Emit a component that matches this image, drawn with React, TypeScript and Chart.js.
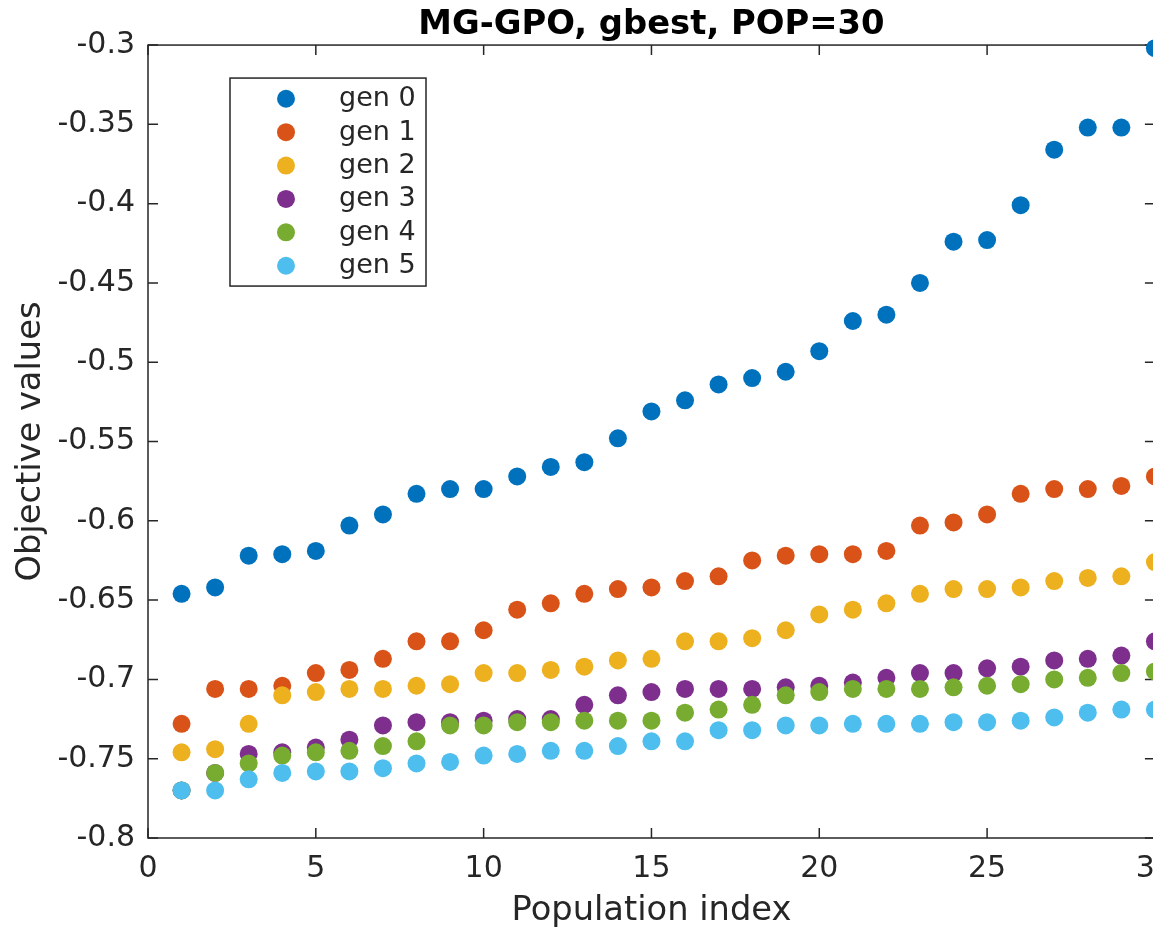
import React, { useEffect, useRef } from "react";
import { Chart, registerables } from "chart.js";

Chart.register(...registerables);

// Population index (x) shared by every generation
const populationIndex = [
  1, 2, 3, 4, 5, 6, 7, 8, 9, 10, 11, 12, 13, 14, 15,
  16, 17, 18, 19, 20, 21, 22, 23, 24, 25, 26, 27, 28, 29, 30,
];

// Objective values, sorted per generation
const gen0 = [
  -0.646, -0.642, -0.622, -0.621, -0.619, -0.603, -0.596, -0.583, -0.58, -0.58,
  -0.572, -0.566, -0.563, -0.548, -0.531, -0.524, -0.514, -0.51, -0.506, -0.493,
  -0.474, -0.47, -0.45, -0.424, -0.423, -0.401, -0.366, -0.352, -0.352, -0.302,
];
const gen1 = [
  -0.728, -0.706, -0.706, -0.704, -0.696, -0.694, -0.687, -0.676, -0.676, -0.669,
  -0.656, -0.652, -0.646, -0.643, -0.642, -0.638, -0.635, -0.625, -0.622, -0.621,
  -0.621, -0.619, -0.603, -0.601, -0.596, -0.583, -0.58, -0.58, -0.578, -0.572,
];
const gen2 = [
  -0.746, -0.744, -0.728, -0.71, -0.708, -0.706, -0.706, -0.704, -0.703, -0.696,
  -0.696, -0.694, -0.692, -0.688, -0.687, -0.676, -0.676, -0.674, -0.669, -0.659,
  -0.656, -0.652, -0.646, -0.643, -0.643, -0.642, -0.638, -0.636, -0.635, -0.626,
];
const gen3 = [
  -0.77, -0.759, -0.747, -0.746, -0.743, -0.738, -0.729, -0.727, -0.727, -0.726,
  -0.725, -0.725, -0.716, -0.71, -0.708, -0.706, -0.706, -0.706, -0.705, -0.704,
  -0.702, -0.699, -0.696, -0.696, -0.693, -0.692, -0.688, -0.687, -0.685, -0.676,
];
const gen4 = [
  -0.77, -0.759, -0.753, -0.748, -0.746, -0.745, -0.742, -0.739, -0.729, -0.729,
  -0.727, -0.727, -0.726, -0.726, -0.726, -0.721, -0.719, -0.716, -0.71, -0.708,
  -0.706, -0.706, -0.706, -0.705, -0.704, -0.703, -0.7, -0.699, -0.696, -0.695,
];
const gen5 = [
  -0.77, -0.77, -0.763, -0.759, -0.758, -0.758, -0.756, -0.753, -0.752, -0.748,
  -0.747, -0.745, -0.745, -0.742, -0.739, -0.739, -0.732, -0.732, -0.729, -0.729,
  -0.728, -0.728, -0.728, -0.727, -0.727, -0.726, -0.724, -0.721, -0.719, -0.719,
];

const seriesValues = [gen0, gen1, gen2, gen3, gen4, gen5];
const seriesNames = ["gen 0", "gen 1", "gen 2", "gen 3", "gen 4", "gen 5"];
const seriesColors = ["#0072BD", "#D95319", "#EDB120", "#7E2F8E", "#77AC30", "#4DBEEE"];

const xTicks = [0, 5, 10, 15, 20, 25, 30];
const yTicks = [-0.8, -0.75, -0.7, -0.65, -0.6, -0.55, -0.5, -0.45, -0.4, -0.35, -0.3];
const yTickLabels = ["-0.8", "-0.75", "-0.7", "-0.65", "-0.6", "-0.55", "-0.5", "-0.45", "-0.4", "-0.35", "-0.3"];

const chartTitle = "MG-GPO, gbest, POP=30";
const xTitle = "Population index";
const yTitle = "Objective values";

const FONT = "'DejaVu Sans', sans-serif";
const AXIS_COLOR = "#262626";
const MARKER_RADIUS = 9;

// Box around the axes with inward tick marks on all four sides
const axesBoxPlugin = {
  id: "axesBox",
  beforeDatasetsDraw(chart: any) {
    const { ctx, chartArea: a, scales } = chart;
    const len = 10;
    ctx.save();
    ctx.strokeStyle = AXIS_COLOR;
    ctx.lineWidth = 1.5;
    ctx.strokeRect(a.left, a.top, a.right - a.left, a.bottom - a.top);
    ctx.beginPath();
    for (const v of xTicks) {
      const px = scales.x.getPixelForValue(v);
      ctx.moveTo(px, a.bottom);
      ctx.lineTo(px, a.bottom - len);
      ctx.moveTo(px, a.top);
      ctx.lineTo(px, a.top + len);
    }
    for (const v of yTicks) {
      const py = scales.y.getPixelForValue(v);
      ctx.moveTo(a.left, py);
      ctx.lineTo(a.left + len, py);
      ctx.moveTo(a.right, py);
      ctx.lineTo(a.right - len, py);
    }
    ctx.stroke();
    ctx.restore();
  },
};

// Boxed legend placed inside the upper-left part of the axes
const insetLegendPlugin = {
  id: "insetLegend",
  afterDatasetsDraw(chart: any) {
    const { ctx, chartArea: a } = chart;
    const left = a.left + 82;
    const top = a.top + 33;
    const width = 196;
    const rowH = 33.4;
    const height = 208;
    ctx.save();
    ctx.fillStyle = "#ffffff";
    ctx.fillRect(left, top, width, height);
    ctx.strokeStyle = AXIS_COLOR;
    ctx.lineWidth = 1.5;
    ctx.strokeRect(left, top, width, height);
    ctx.font = `27px ${FONT}`;
    ctx.textBaseline = "middle";
    ctx.textAlign = "left";
    chart.data.datasets.forEach((ds: any, i: number) => {
      const cy = top + 20.7 + i * rowH;
      ctx.beginPath();
      ctx.arc(left + 56, cy, MARKER_RADIUS, 0, Math.PI * 2);
      ctx.fillStyle = ds.backgroundColor;
      ctx.fill();
      ctx.fillStyle = AXIS_COLOR;
      ctx.fillText(ds.label, left + 109, cy + 0.5);
    });
    ctx.restore();
  },
};

export default function App() {
  const canvasRef = useRef<HTMLCanvasElement | null>(null);

  useEffect(() => {
    const canvas = canvasRef.current;
    if (!canvas) return;

    const datasets = seriesValues.map((values, i) => ({
      label: seriesNames[i],
      data: values.map((v, j) => ({ x: populationIndex[j], y: v })),
      backgroundColor: seriesColors[i],
      borderColor: seriesColors[i],
      pointRadius: MARKER_RADIUS,
      pointBorderWidth: 0,
      pointHoverRadius: MARKER_RADIUS,
      showLine: false,
      clip: false as any,
      // later generations are painted on top
      order: seriesValues.length - 1 - i,
    }));

    const chart = new Chart(canvas, {
      type: "scatter",
      data: { datasets },
      options: {
        animation: false,
        responsive: false,
        devicePixelRatio: 1,
        events: [],
        layout: { padding: { left: 0, right: 23, top: 0, bottom: 0 } },
        plugins: {
          legend: { display: false },
          tooltip: { enabled: false },
          title: {
            display: true,
            text: chartTitle,
            color: "#000000",
            fullSize: false,
            font: { family: FONT, size: 33.8, weight: "bold" },
            padding: { top: 4.5, bottom: 0 },
          },
        },
        scales: {
          x: {
            type: "linear",
            min: 0,
            max: 30,
            afterBuildTicks: (s: any) => {
              s.ticks = xTicks.map((v) => ({ value: v }));
            },
            afterFit: (s: any) => {
              s.height = 91;
            },
            grid: { display: false, drawTicks: false },
            border: { display: false },
            ticks: {
              autoSkip: false,
              maxRotation: 0,
              padding: 13,
              color: AXIS_COLOR,
              font: { family: FONT, size: 30 },
              callback: (v: any) => String(v),
            },
            title: {
              display: true,
              text: xTitle,
              color: AXIS_COLOR,
              font: { family: FONT, size: 33.7 },
              padding: { top: 0, bottom: -2.5 },
            },
          },
          y: {
            type: "linear",
            min: -0.8,
            max: -0.3,
            afterBuildTicks: (s: any) => {
              s.ticks = yTicks.map((v) => ({ value: v }));
            },
            afterFit: (s: any) => {
              s.width = 148;
            },
            grid: { display: false, drawTicks: false },
            border: { display: false },
            ticks: {
              autoSkip: false,
              padding: 13,
              color: AXIS_COLOR,
              font: { family: FONT, size: 30 },
              callback: (v: any) => {
                const k = yTicks.findIndex((t) => Math.abs(t - v) < 1e-9);
                return k >= 0 ? yTickLabels[k] : "";
              },
            },
            title: {
              display: true,
              text: yTitle,
              color: AXIS_COLOR,
              font: { family: FONT, size: 33.7 },
              padding: { top: 11.5, bottom: 0 },
            },
          },
        },
      },
      plugins: [axesBoxPlugin, insetLegendPlugin],
    });

    return () => chart.destroy();
  }, []);

  return (
    <div
      style={{
        position: "fixed",
        left: 0,
        top: 0,
        width: 1153,
        height: 929,
        overflow: "hidden",
        background: "#ffffff",
      }}
    >
      <canvas
        ref={canvasRef}
        width={1187}
        height={929}
        style={{ display: "block", width: 1187, height: 929 }}
      />
    </div>
  );
}
